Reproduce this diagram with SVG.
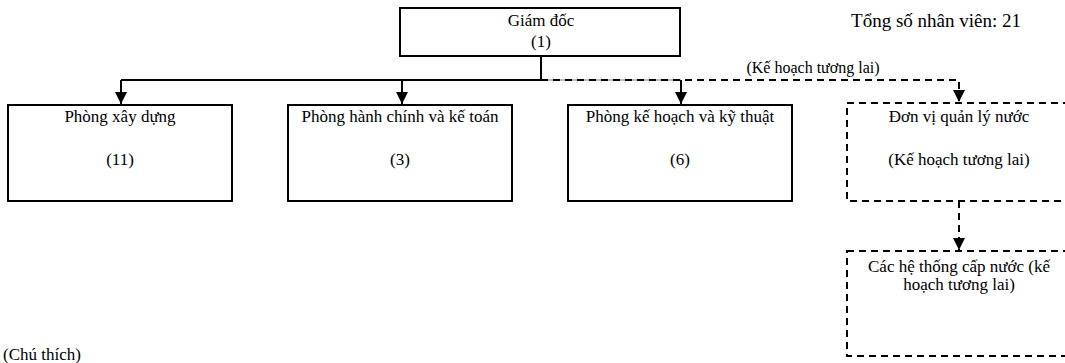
<svg xmlns="http://www.w3.org/2000/svg" width="1065" height="363" viewBox="0 0 1065 363">
  <style>
    text { font-family: "Liberation Serif", "Times New Roman", Times, "DejaVu Serif", serif; font-size: 17px; fill: #000; text-anchor: middle; }
    .box { fill: #fff; stroke: #000; stroke-width: 2; }
    .plan { fill: #fff; stroke: #000; stroke-width: 2; stroke-dasharray: 7 5; }
    .wire { fill: none; stroke: #000; stroke-width: 2; }
    .dash { fill: none; stroke: #000; stroke-width: 2; stroke-dasharray: 7 5; }
  </style>
  <defs>
    <marker id="arrow" viewBox="0 0 10 10" refX="10" refY="5" markerWidth="6" markerHeight="6" orient="auto" markerUnits="strokeWidth">
      <path d="M0,0 L10,5 L0,10 Z" fill="#000"/>
    </marker>
  </defs>

  <rect width="1065" height="363" fill="#fff"/>

  <!-- connectors -->
  <g id="connectors">
    <path class="wire" d="M541,56 V80"/>
    <path class="wire" d="M121,80 H541"/>
    <path d="M541,80 H681" fill="none" stroke="#aaa" stroke-width="1.5"/>
    <path class="dash" d="M541,80 H959 V102" marker-end="url(#arrow)"/>
    <path class="wire" d="M121,80 V104" marker-end="url(#arrow)"/>
    <path class="wire" d="M402,80 V104" marker-end="url(#arrow)"/>
    <path class="wire" d="M681,80 V104" marker-end="url(#arrow)"/>
    <path class="dash" d="M959,201 V250" marker-end="url(#arrow)"/>
    <text x="813" y="73" style="font-size:16px">(Kế hoạch tương lai)</text>
  </g>

  <g id="director">
    <rect class="box" x="400" y="8" width="280" height="48"/>
    <text x="541" y="26">Giám đốc</text>
    <text x="541" y="47">(1)</text>
  </g>

  <g id="total">
    <text x="936" y="27" style="font-size:19px">Tổng số nhân viên: 21</text>
  </g>

  <g id="construction">
    <rect class="box" x="8" y="105" width="224" height="96"/>
    <text x="120" y="122">Phòng xây dựng</text>
    <text x="120" y="165">(11)</text>
  </g>

  <g id="admin">
    <rect class="box" x="288" y="105" width="224" height="96"/>
    <text x="400" y="122">Phòng hành chính và kế toán</text>
    <text x="400" y="165">(3)</text>
  </g>

  <g id="planning">
    <rect class="box" x="568" y="105" width="224" height="96"/>
    <text x="680" y="122">Phòng kế hoạch và kỹ thuật</text>
    <text x="680" y="165">(6)</text>
  </g>

  <g id="water-unit">
    <rect class="plan" x="847" y="103" width="226" height="98"/>
    <text x="959" y="122">Đơn vị quản lý nước</text>
    <text x="959" y="165">(Kế hoạch tương lai)</text>
  </g>

  <g id="water-systems">
    <rect class="plan" x="847" y="251" width="226" height="105"/>
    <text x="959" y="272">Các hệ thống cấp nước (kế</text>
    <text x="959" y="290">hoạch tương lai)</text>
  </g>

  <g id="note">
    <text x="42" y="360">(Chú thích)</text>
  </g>
</svg>
